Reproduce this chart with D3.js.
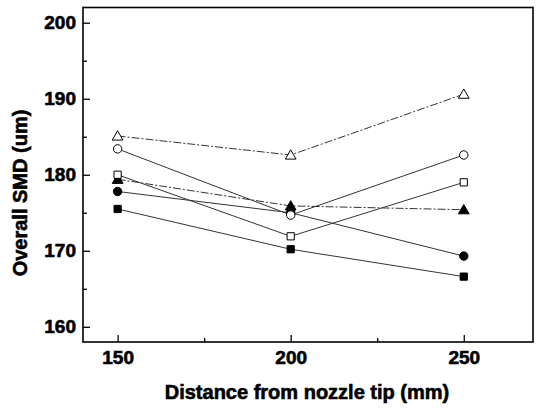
<!DOCTYPE html>
<html>
<head>
<meta charset="utf-8">
<script src="https://cdn.jsdelivr.net/npm/d3@7"></script>
<style>
  html, body { margin: 0; padding: 0; background: #fff; }
  svg { display: block; }
  text { font-family: "Liberation Sans", Arial, sans-serif; font-weight: bold; fill: #000; stroke: #000; stroke-width: 0.6px; }
</style>
</head>
<body>
<svg id="chart" width="539" height="410"></svg>
<script>
const distances = [150, 200, 250];
const openTriangle = [185.1, 182.6, 190.6];
const openCircle = [183.4, 174.7, 182.6];
const openSquare = [180.0, 171.9, 179.0];
const filledTriangle = [179.4, 175.9, 175.4];
const filledCircle = [177.8, 175.0, 169.3];
const filledSquare = [175.5, 170.2, 166.6];
const xTicks = [150, 200, 250];
const xMinorTicks = [175, 225];
const yTicks = [160, 170, 180, 190, 200];
const yMinorTicks = [165, 175, 185, 195];
const xTitle = "Distance from nozzle tip (mm)";
const yTitle = "Overall SMD (um)";

const series = [
  { name: "filledSquare", values: filledSquare, shape: "square", filled: true, dash: null },
  { name: "filledCircle", values: filledCircle, shape: "circle", filled: true, dash: null },
  { name: "filledTriangle", values: filledTriangle, shape: "triangle", filled: true, dash: "8,2,2,2" },
  { name: "openSquare", values: openSquare, shape: "square", filled: false, dash: null },
  { name: "openCircle", values: openCircle, shape: "circle", filled: false, dash: null },
  { name: "openTriangle", values: openTriangle, shape: "triangle", filled: false, dash: "8,2,2,2" }
];

const mLeft = 83, mRight = 533, mTop = 7.5, mBottom = 342;
const svg = d3.select("#chart");
const x = d3.scaleLinear().domain([140, 270]).range([mLeft, mRight]);
const y = d3.scaleLinear().domain([158, 202]).range([mBottom, mTop]);

// lines
const line = d3.line().x((d, i) => x(distances[i])).y(d => y(d));
series.forEach(s => {
  svg.append("path")
    .attr("d", line(s.values))
    .attr("fill", "none")
    .attr("stroke", "#333")
    .attr("stroke-width", 1)
    .attr("stroke-dasharray", s.dash);
});

// markers
const symbolType = { square: d3.symbolSquare, circle: d3.symbolCircle, triangle: d3.symbolTriangle };
const symbolSize = { square: 52, circle: 56, triangle: 50 };
series.forEach(s => {
  const sym = d3.symbol().type(symbolType[s.shape]).size(symbolSize[s.shape]);
  svg.append("g").selectAll("path")
    .data(s.values)
    .join("path")
    .attr("d", sym)
    .attr("transform", (d, i) => `translate(${x(distances[i])},${y(d) + (s.shape === "triangle" ? 1 : 0)})`)
    .attr("fill", s.filled ? "#000" : "#fff")
    .attr("stroke", "#000")
    .attr("stroke-width", 1);
});

// frame
svg.append("rect")
  .attr("x", mLeft).attr("y", mTop)
  .attr("width", mRight - mLeft).attr("height", mBottom - mTop)
  .attr("fill", "none").attr("stroke", "#000").attr("stroke-width", 1.6);

// axes
const yAxis = d3.axisLeft(y).tickValues(yTicks).tickSize(-7).tickPadding(7).tickFormat(d3.format("d"));
const gy = svg.append("g").attr("transform", `translate(${mLeft},0)`).call(yAxis);
gy.select(".domain").remove();
gy.selectAll("line").attr("stroke", "#000").attr("stroke-width", 1.3);
gy.selectAll("text").style("font-size", "19px").attr("fill", "#000");

const yMinor = d3.axisLeft(y).tickValues(yMinorTicks).tickSize(-4).tickFormat("");
const gym = svg.append("g").attr("transform", `translate(${mLeft},0)`).call(yMinor);
gym.select(".domain").remove();
gym.selectAll("line").attr("stroke", "#000").attr("stroke-width", 1.3);

const xAxis = d3.axisBottom(x).tickValues(xTicks).tickSize(-7).tickPadding(9).tickFormat(d3.format("d"));
const gx = svg.append("g").attr("transform", `translate(0,${mBottom})`).call(xAxis);
gx.select(".domain").remove();
gx.selectAll("line").attr("stroke", "#000").attr("stroke-width", 1.3);
gx.selectAll("text").style("font-size", "19px").attr("fill", "#000");

const xMinor = d3.axisBottom(x).tickValues(xMinorTicks).tickSize(-4).tickFormat("");
const gxm = svg.append("g").attr("transform", `translate(0,${mBottom})`).call(xMinor);
gxm.select(".domain").remove();
gxm.selectAll("line").attr("stroke", "#000").attr("stroke-width", 1.3);

// titles
svg.append("text")
  .attr("x", (mLeft + mRight) / 2 - 1).attr("y", 399)
  .attr("text-anchor", "middle")
  .style("font-size", "20px")
  .text(xTitle);

svg.append("text")
  .attr("transform", "translate(27,193) rotate(-90)")
  .attr("text-anchor", "middle")
  .style("font-size", "20px")
  .text(yTitle);
</script>
</body>
</html>
